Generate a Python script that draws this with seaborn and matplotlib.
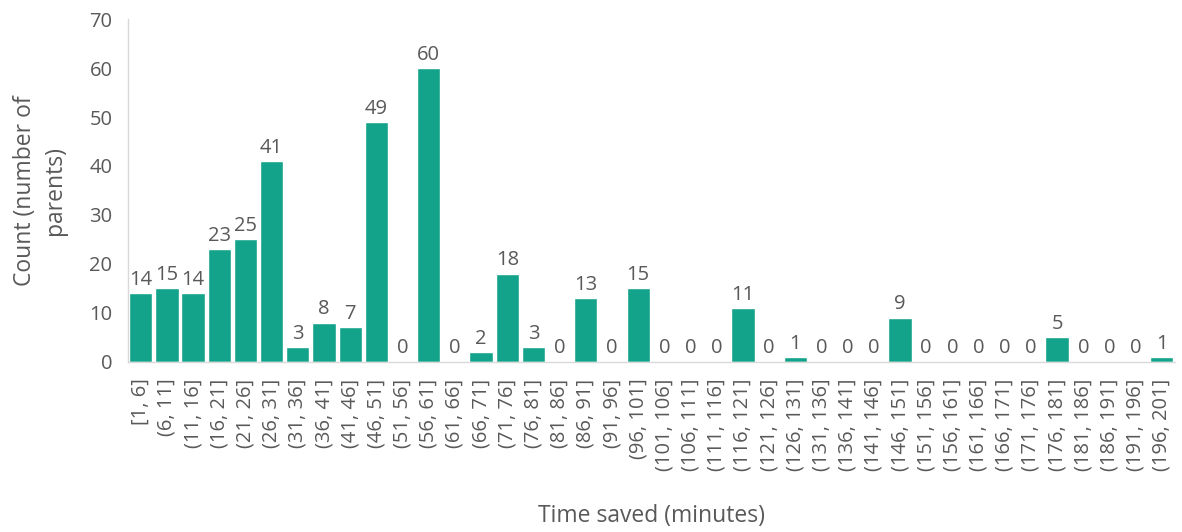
import seaborn as sns
import matplotlib.pyplot as plt
import pandas as pd

bin_starts = list(range(1, 200, 5))
bin_labels = ["[1, 6]"] + [f"({s}, {s + 5}]" for s in bin_starts[1:]]
counts = [14, 15, 14, 23, 25, 41, 3, 8, 7, 49,
          0, 60, 0, 2, 18, 3, 0, 13, 0, 15,
          0, 0, 0, 11, 0, 1, 0, 0, 0, 9,
          0, 0, 0, 0, 0, 5, 0, 0, 0, 1]


def main() -> None:
    sns.set_style("white")
    plt.rcParams["font.family"] = ["Open Sans", "DejaVu Sans"]
    text_color = "#595959"
    bar_color = "#13A38A"

    df = pd.DataFrame({"bin": bin_labels, "count": counts})

    fig = plt.figure(figsize=(11.82, 5.32), dpi=100)
    ax = fig.add_axes([0.108, 0.320, 0.886, 0.644])

    sns.barplot(data=df, x="bin", y="count", color=bar_color,
                width=0.89, saturation=1, ax=ax)

    for i, v in enumerate(counts):
        ax.annotate(str(v), (i, v), xytext=(0, 6), textcoords="offset points",
                    ha="center", va="baseline", fontsize=14.5, color=text_color)

    ax.set_ylim(0, 70)
    ax.set_xlim(-0.5, len(counts) - 0.5)
    ax.set_yticks(range(0, 71, 10))
    ax.tick_params(axis="y", labelsize=14.5, colors=text_color, length=0, pad=11)
    ax.tick_params(axis="x", labelsize=14.5, colors=text_color, length=0,
                   rotation=90, pad=12)

    for side in ["top", "right"]:
        ax.spines[side].set_visible(False)
    for side in ["left", "bottom"]:
        ax.spines[side].set_color("#d9d9d9")
        ax.spines[side].set_linewidth(1)

    ax.set_xlabel("Time saved (minutes)", fontsize=16.5, color=text_color,
                  labelpad=24)
    ax.set_ylabel("Count (number of\nparents)", fontsize=16.5, color=text_color,
                  labelpad=16, linespacing=1.35)

    fig.savefig("out.png", dpi=100)


if __name__ == "__main__":
    main()
